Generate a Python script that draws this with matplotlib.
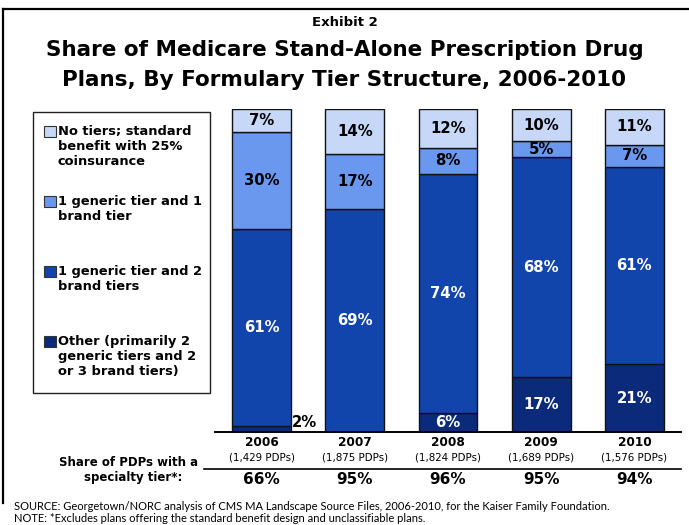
import numpy as np
import matplotlib
matplotlib.use("Agg")
import matplotlib.pyplot as plt
import matplotlib.transforms as mtransforms
from matplotlib.patches import Rectangle
from matplotlib.lines import Line2D

# Datos: porcentaje de PDPs por estructura de niveles del formulario
years = ["2006", "2007", "2008", "2009", "2010"]
pdp_counts = ["(1,429 PDPs)", "(1,875 PDPs)", "(1,824 PDPs)", "(1,689 PDPs)", "(1,576 PDPs)"]
specialty_share = ["66%", "95%", "96%", "95%", "94%"]

other = [2, 0, 6, 17, 21]
generic1_brand2 = [61, 69, 74, 68, 61]
generic1_brand1 = [30, 17, 8, 5, 7]
no_tiers = [7, 14, 12, 10, 11]

series = [other, generic1_brand2, generic1_brand1, no_tiers]
colores = ["#0B2B7A", "#1245AB", "#6A98EE", "#C6D7F7"]
color_texto = ["white", "white", "black", "black"]
etiquetas = [
    "No tiers; standard\nbenefit with 25%\ncoinsurance",
    "1 generic tier and 1\nbrand tier",
    "1 generic tier and 2\nbrand tiers",
    "Other (primarily 2\ngeneric tiers and 2\nor 3 brand tiers)",
]

W, H = 689, 525
fig = plt.figure(figsize=(W / 100, H / 100), dpi=100)
fuente = ["DejaVu Sans"]
fuente_nota = ["Lato", "DejaVu Sans"]


def fx(px):
    return px / W


def fy(py):
    return 1 - py / H


# Marco de la diapositiva
fig.add_artist(Line2D([fx(3), fx(689)], [fy(9), fy(9)], color="black", lw=1.6))
fig.add_artist(Line2D([fx(3), fx(3)], [fy(9), fy(503)], color="black", lw=1.6))

# Titulo
fig.text(0.5, fy(22), "Exhibit 2", ha="center", va="center",
         fontsize=9.5, fontweight="bold", family=fuente)
fig.text(0.5, fy(50), "Share of Medicare Stand-Alone Prescription Drug",
         ha="center", va="center", fontsize=15.5, fontweight="bold", family=fuente)
fig.text(0.5, fy(80), "Plans, By Formulary Tier Structure, 2006-2010",
         ha="center", va="center", fontsize=15.5, fontweight="bold", family=fuente)

# Grafico de barras apiladas
ax = fig.add_axes([fx(215), fy(432), fx(681) - fx(215), (432 - 109) / H])
x = np.arange(len(years))
ancho = 0.63
base = np.zeros(len(years))
for vals, col, tcol in zip(series, colores, color_texto):
    vals = np.array(vals, dtype=float)
    ax.bar(x, vals, ancho, bottom=base, color=col, edgecolor="#111111", linewidth=1)
    for i, v in enumerate(vals):
        if v >= 5:
            ax.text(x[i], base[i] + v / 2, f"{int(v)}%", ha="center", va="center",
                    color=tcol, fontsize=10.7, fontweight="bold", family=fuente)
    base += vals

# Etiqueta del 2% fuera de la barra
ax.text(x[0] + ancho / 2 + 0.01, 3, f"{other[0]}%", ha="left", va="center",
        color="black", fontsize=10.7, fontweight="bold", family=fuente)

ax.set_xlim(-0.5, 4.5)
ax.set_ylim(0, 100)
for s in ["top", "right", "left"]:
    ax.spines[s].set_visible(False)
ax.spines["bottom"].set_linewidth(1.4)
ax.set_xticks([])
ax.set_yticks([])

# Filas inferiores: anio, numero de PDPs, porcentaje con nivel de especialidad
tr = mtransforms.blended_transform_factory(ax.transData, fig.transFigure)
for i in range(len(years)):
    ax.text(x[i], fy(443), years[i], transform=tr, ha="center", va="center",
            fontsize=8.7, fontweight="bold", family=fuente, clip_on=False)
    ax.text(x[i], fy(457), pdp_counts[i], transform=tr, ha="center", va="center",
            fontsize=7.4, family=fuente, clip_on=False)
    ax.text(x[i], fy(480), specialty_share[i], transform=tr, ha="center", va="center",
            fontsize=11, fontweight="bold", family=fuente, clip_on=False)

fig.add_artist(Line2D([fx(204), fx(681)], [fy(469), fy(469)], color="black", lw=1.2))
fig.text(fx(198), fy(463), "Share of PDPs with a", ha="right", va="center",
         fontsize=8.5, fontweight="bold", family=fuente)
fig.text(fx(182), fy(478), "specialty tier*:", ha="right", va="center",
         fontsize=8.5, fontweight="bold", family=fuente)

# Leyenda dibujada a mano
fig.add_artist(Rectangle((fx(33), fy(393)), fx(210) - fx(33), (393 - 112) / H,
                         transform=fig.transFigure, facecolor="white",
                         edgecolor="#222222", lw=1))
y_entradas = [132, 202, 272, 342]
for lab, col, yy in zip(etiquetas, colores[::-1], y_entradas):
    fig.add_artist(Rectangle((fx(44), fy(yy + 5)), fx(12) - fx(0), 11 / H,
                             transform=fig.transFigure, facecolor=col,
                             edgecolor="#333333", lw=0.8))
    fig.text(fx(58), fy(yy - 7), lab, ha="left", va="top", fontsize=9.4,
             fontweight="bold", family=fuente, linespacing=1.2)

# Notas al pie
fig.text(fx(14), fy(506), "SOURCE: Georgetown/NORC analysis of CMS MA Landscape Source Files, "
         "2006-2010, for the Kaiser Family Foundation.", ha="left", va="center",
         fontsize=8, family=fuente_nota)
fig.text(fx(14), fy(518), "NOTE: *Excludes plans offering the standard benefit design "
         "and unclassifiable plans.", ha="left", va="center",
         fontsize=8, family=fuente_nota)

fig.savefig("out.png", dpi=100)
